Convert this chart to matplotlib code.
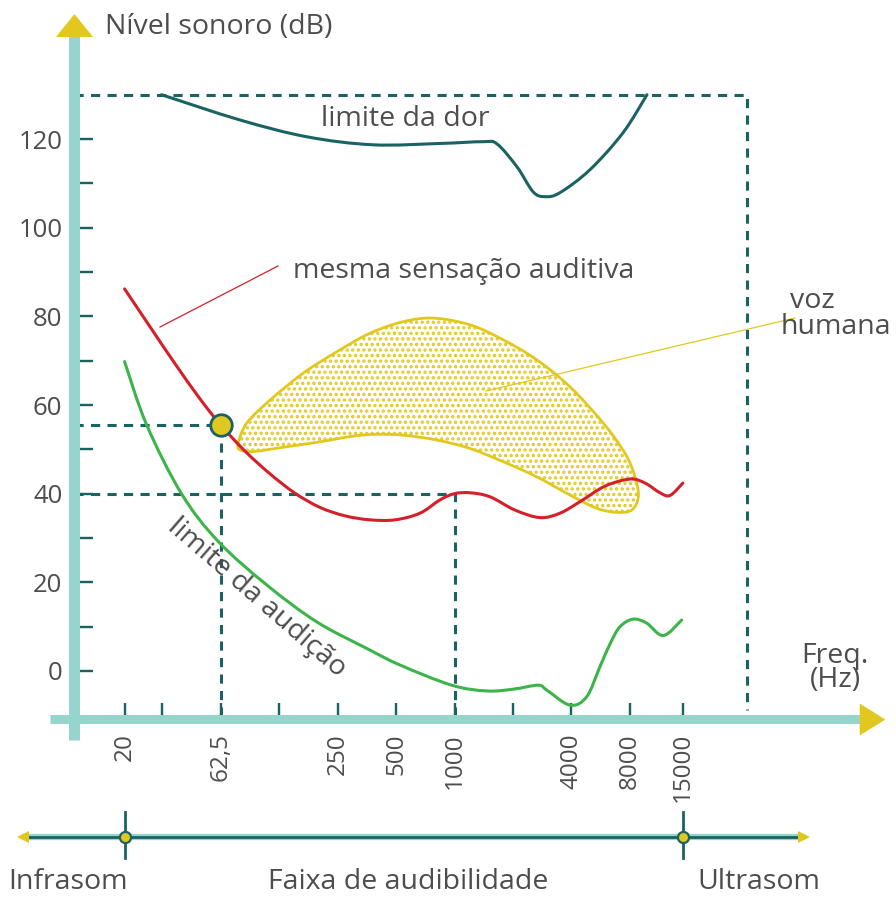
import numpy as np
import matplotlib
matplotlib.use("Agg")
import matplotlib.pyplot as plt
from matplotlib.path import Path
from matplotlib.patches import PathPatch

plt.rcParams['font.family'] = ['Open Sans', 'DejaVu Sans']
plt.rcParams['hatch.linewidth'] = 1.6

# ---------------------------------------------------------------- data
# threshold of pain (Hz, dB)
pain_freq = [31, 78.6, 174, 380, 842, 1400, 1655, 2100, 2540, 2920, 3490, 4990, 7370, 9800]
pain_db = [130, 124.3, 120.5, 118.7, 119.0, 119.4, 118.9, 113.7, 108.1, 107.0, 107.9, 113.1, 121.4, 130]

# equal-loudness contour (Hz, dB)
equal_freq = [20, 27.0, 36.4, 48.9, 62.5, 83.4, 112, 151, 203, 273, 367, 494, 664, 842, 1000,
              1202, 1523, 2049, 2756, 3494, 4430, 5957, 8011, 9572, 11436, 12876, 15000]
equal_db = [86.2, 77.7, 69.3, 61.4, 55.5, 49.6, 44.5, 40.1, 36.9, 35.0, 34.1, 34.1, 35.6, 38.6, 40.0,
            40.2, 39.3, 36.3, 34.6, 35.6, 38.2, 41.7, 43.3, 42.4, 40.2, 39.6, 42.4]

# threshold of hearing (Hz, dB)
hearing_freq = [20, 26, 39.4, 60.8, 108, 195, 353, 524, 967, 1465, 2009, 2701, 2984, 3932,
                4795, 5614, 6320, 7115, 8329, 9765, 11891, 14790]
hearing_db = [69.8, 55.5, 39.9, 29.2, 19.4, 11.1, 5.1, 1.35, -3.2, -4.5, -4.1, -3.2, -4.3, -7.7,
              -5.8, 1.0, 6.1, 10.0, 11.7, 10.8, 8.0, 11.5]

# human voice region outline (Hz, dB)
voice_freq = [78.6, 92.0, 136.8, 202.9, 301.2, 397.5, 544.8, 809.8, 1201, 1784, 2651, 3932, 5397,
              6842, 8177, 8843, 8503, 7551, 5838, 3932, 2651, 1784, 1201, 777.7, 544.8, 367.2,
              247.4, 166.5, 112.2, 85.1, 77.0]
voice_db = [49.9, 49.5, 50.6, 51.7, 53.0, 53.4, 53.2, 52.1, 50.2, 47.2, 43.8, 39.7, 36.7, 35.8,
            36.3, 39.3, 43.8, 49.1, 55.9, 64.1, 70.2, 74.7, 78.1, 79.6, 78.8, 76.2, 72.0, 67.2,
            61.1, 55.9, 51.4]

# highlighted point and reference levels
dot_freq, dot_db = 62.5, 55.5
ref_freq, ref_db = 1000, 40
frame_freq, frame_db = 32000, 130

# axis ticks
x_ticks = [20, 31.25, 62.5, 125, 250, 500, 1000, 2000, 4000, 8000, 15000]
x_labels = ['20', '', '62,5', '', '250', '500', '1000', '', '4000', '8000', '15000']
y_ticks = list(range(0, 121, 10))
y_labels = [str(v) if v % 20 == 0 else '' for v in y_ticks]

# audible band edges
band_edges = [20, 15000]

# ---------------------------------------------------------------- style
TEAL = '#1b6262'
AXIS = '#96d5cb'
YELLOW = '#e2c81e'
RED = '#d42029'
GREEN = '#3cb44a'
TEXT = '#4d4d4d'

W, H = 896, 897
fig = plt.figure(figsize=(W / 100, H / 100), dpi=100)
ax = fig.add_axes([0, 0, 1, 1])
ax.set_xscale('log')

# pixel layout of the octave scale
PX_1000, PX_DEC = 454.5, 194.2
PY_0, PX_DB = 671.0, 4.433


def fx(px):
    return 1000 * 10 ** ((px - PX_1000) / PX_DEC)


def fy(py):
    return (PY_0 - py) / PX_DB


def fig_xy(px, py):
    return px / W, 1 - py / H


ax.set_xlim(fx(0), fx(W))
ax.set_ylim(fy(H), fy(0))
ax.patch.set_visible(False)


def smooth_path(freqs, levels, closed=False):
    pts = np.column_stack([np.log10(np.asarray(freqs, float)), np.asarray(levels, float)])
    n = len(pts)
    if closed:
        P = np.vstack([pts[-1], pts, pts[0], pts[1]])
        segs = n
    else:
        P = np.vstack([pts[0], pts, pts[-1]])
        segs = n - 1
    verts = [P[1]]
    codes = [Path.MOVETO]
    for i in range(1, segs + 1):
        p0, p1, p2, p3 = P[i - 1], P[i], P[i + 1], P[i + 2]
        verts += [p1 + (p2 - p0) / 6, p2 - (p3 - p1) / 6, p2]
        codes += [Path.CURVE4] * 3
    verts = np.array(verts)
    if closed:
        verts = np.vstack([verts, verts[0]])
        codes.append(Path.CLOSEPOLY)
    verts[:, 0] = 10 ** verts[:, 0]
    return Path(verts, codes)


# ---------------------------------------------------------------- axes frame
x_axis_db = fy(718.5)
y_axis_f = fx(73.5)
ax.spines['top'].set_visible(False)
ax.spines['right'].set_visible(False)
ax.spines['left'].set_position(('data', y_axis_f))
ax.spines['bottom'].set_position(('data', x_axis_db))
ax.spines['left'].set_bounds(fy(740), fy(36))
ax.spines['bottom'].set_bounds(fx(50), fx(861))
ax.spines['left'].set_linewidth(11 * 0.72)
ax.spines['bottom'].set_linewidth(9 * 0.72)
for s in ('left', 'bottom'):
    ax.spines[s].set_color(AXIS)
    ax.spines[s].set_capstyle('butt')

ax.set_xticks(x_ticks)
ax.set_xticklabels(x_labels, rotation=90)
ax.xaxis.set_minor_locator(matplotlib.ticker.NullLocator())
ax.set_yticks(y_ticks)
ax.set_yticklabels(y_labels)
ax.tick_params(axis='x', direction='in', length=16.5 * 0.72, width=2.4 * 0.72, color=TEAL,
               pad=10.5, labelsize=17.5, labelcolor=TEXT)
ax.tick_params(axis='y', direction='in', length=18.5 * 0.72, width=2.4 * 0.72, color=TEAL,
               pad=8, labelsize=18.5, labelcolor=TEXT)

# arrow heads of the axes
up_tri = [(-1, -0.62), (1, -0.62), (0, 0.62), (-1, -0.62)]
right_tri = [(-0.8, -1), (0.8, 0), (-0.8, 1), (-0.8, -1)]
ax.plot([y_axis_f], [fy(25.5)], marker=up_tri, ms=37 * 0.72, color=YELLOW, mew=0,
        clip_on=False, zorder=5)
ax.plot([fx(872)], [x_axis_db], marker=right_tri, ms=32 * 0.72, color=YELLOW, mew=0,
        clip_on=False, zorder=5)

# ---------------------------------------------------------------- reference dashes
dash = dict(color=TEAL, lw=2.2, ls=(0, (3.0, 2.4)), zorder=1, dash_capstyle='butt')
ax.plot([y_axis_f, frame_freq, frame_freq], [frame_db, frame_db, x_axis_db + 2], **dash)
ax.plot([y_axis_f, dot_freq, dot_freq], [dot_db, dot_db, x_axis_db], **dash)
ax.plot([y_axis_f, ref_freq, ref_freq], [ref_db, ref_db, x_axis_db], **dash)

# ---------------------------------------------------------------- curves
voice = PathPatch(smooth_path(voice_freq, voice_db, closed=True), facecolor='none',
                  edgecolor=YELLOW, lw=2.0, hatch='...', zorder=2)
ax.add_patch(voice)
for fr, lv, col in [(pain_freq, pain_db, TEAL), (equal_freq, equal_db, RED),
                    (hearing_freq, hearing_db, GREEN)]:
    ax.add_patch(PathPatch(smooth_path(fr, lv), facecolor='none', edgecolor=col, lw=2.2,
                           capstyle='round', zorder=3))

ax.plot([dot_freq], [dot_db], 'o', ms=15.5, mfc='#e0c820', mec=TEAL, mew=2.0, zorder=4)

# leader lines
ax.plot([fx(160), fx(278)], [fy(327), fy(266)], color=RED, lw=0.9, zorder=3)
ax.plot([fx(486), fx(795)], [fy(391), fy(318)], color=YELLOW, lw=0.9, zorder=3)

# ---------------------------------------------------------------- labels
tk = dict(color=TEXT, fontsize=20.5)
fig.text(*fig_xy(105, 27), 'Nível sonoro (dB)', ha='left', va='center', **tk)
fig.text(*fig_xy(405, 119), 'limite da dor', ha='center', va='center', **tk)
fig.text(*fig_xy(293, 271), 'mesma sensação auditiva', ha='left', va='center', **tk)
fig.text(*fig_xy(812, 301), 'voz', ha='center', va='center', **tk)
fig.text(*fig_xy(836, 327), 'humana', ha='center', va='center', **tk)
fig.text(*fig_xy(835, 668), 'Freq.\n(Hz)', ha='center', va='center', multialignment='center',
         linespacing=0.78, **tk)
fig.text(*fig_xy(257, 598), 'limite da audição', ha='center', va='center',
         rotation=-41, rotation_mode='anchor', **tk)

# ---------------------------------------------------------------- audible band line
band_db = fy(837)
ax.plot([fx(22), fx(805)], [band_db, band_db], color=AXIS, lw=4.5, solid_capstyle='butt',
        clip_on=False, zorder=2)
ax.plot([fx(22), fx(805)], [band_db, band_db], color=TEAL, lw=2.0, solid_capstyle='butt',
        clip_on=False, zorder=3)
ax.plot([fx(23)], [band_db], marker='<', ms=9, color=YELLOW, mew=0, clip_on=False, zorder=4)
ax.plot([fx(804)], [band_db], marker='>', ms=9, color=YELLOW, mew=0, clip_on=False, zorder=4)
for f in band_edges:
    ax.plot([f, f], [fy(812), fy(858)], color=TEAL, lw=2.0, clip_on=False, zorder=3)
ax.plot(band_edges, [band_db] * 2, 'o', ms=8, mfc=YELLOW, mec=TEAL, mew=1.6,
        clip_on=False, zorder=5)

fig.text(*fig_xy(8, 889), 'Infrasom', ha='left', va='baseline', **tk)
fig.text(*fig_xy(268, 889), 'Faixa de audibilidade', ha='left', va='baseline', **tk)
fig.text(*fig_xy(697, 889), 'Ultrasom', ha='left', va='baseline', **tk)

fig.savefig('out.png', dpi=100)
